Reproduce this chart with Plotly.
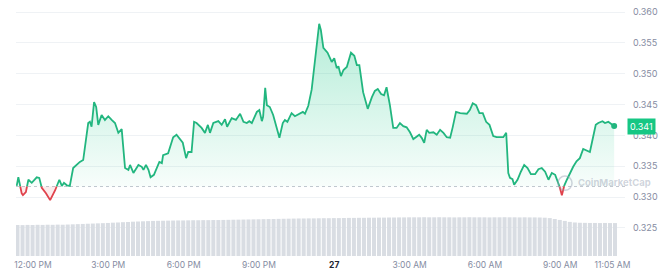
import numpy as np
import pandas as pd
import plotly.graph_objects as go

START = pd.Timestamp("2023-05-26 11:05")

# minutes after START, and price (USD)
MINUTES = [16, 20, 28, 31, 38, 44, 52, 64, 70, 76, 86, 96, 108, 118, 124, 129, 136, 143,
           151, 159, 167, 175, 179, 187, 191, 195, 201, 206, 211, 219, 227, 235, 243, 251,
           259, 267, 275, 283, 287, 295, 307, 315, 319, 325, 331, 336, 344, 351, 357, 363,
           366, 378, 390, 398, 406, 413, 421, 426, 434, 440, 446, 458, 466, 473, 478, 486,
           498, 506, 514, 519, 530, 540, 550, 558, 566, 572, 578, 590, 596, 602, 605, 610,
           614, 621, 629, 637, 644, 652, 657, 663, 673, 681, 691, 700, 705, 713, 721, 729,
           737, 739, 743, 749, 759, 769, 775, 781, 785, 791, 797, 805, 815, 823, 829, 835,
           844, 855, 865, 872, 879, 887, 894, 900, 908, 916, 924, 932, 940, 948, 956, 964,
           970, 978, 984, 990, 996, 1002, 1012, 1020, 1028, 1036, 1044, 1052, 1058, 1066,
           1076, 1083, 1092, 1099, 1106, 1114, 1122, 1130, 1138, 1146, 1155, 1163, 1171,
           1179, 1186, 1191, 1195, 1201, 1205, 1213, 1221, 1229, 1237, 1245, 1255, 1263,
           1271, 1279, 1287, 1295, 1303, 1311, 1319, 1325, 1331, 1338, 1346, 1354, 1362,
           1370, 1378, 1386, 1392, 1400, 1406, 1416, 1422, 1430, 1438, 1444]
PRICE = [0.3318, 0.3332, 0.3306, 0.3303, 0.3308, 0.3328, 0.3323, 0.3332, 0.3331, 0.3315,
         0.3306, 0.3295, 0.3311, 0.3328, 0.3318, 0.3323, 0.3319, 0.3318, 0.3347, 0.3352,
         0.3357, 0.3360, 0.3379, 0.3420, 0.3422, 0.3414, 0.3454, 0.3446, 0.3417, 0.3433,
         0.3425, 0.3431, 0.3425, 0.3420, 0.3404, 0.3410, 0.3347, 0.3344, 0.3352, 0.3339,
         0.3352, 0.3349, 0.3344, 0.3352, 0.3344, 0.3332, 0.3336, 0.3347, 0.3357, 0.3355,
         0.3368, 0.3371, 0.3397, 0.3401, 0.3394, 0.3388, 0.3363, 0.3373, 0.3373, 0.3422,
         0.3420, 0.3412, 0.3404, 0.3417, 0.3404, 0.3420, 0.3423, 0.3417, 0.3426, 0.3414,
         0.3428, 0.3425, 0.3435, 0.3422, 0.3420, 0.3423, 0.3420, 0.3438, 0.3441, 0.3423,
         0.3430, 0.3477, 0.3449, 0.3446, 0.3433, 0.3412, 0.3396, 0.3420, 0.3425, 0.3422,
         0.3436, 0.3431, 0.3435, 0.3438, 0.3435, 0.3448, 0.3474, 0.3525, 0.3574, 0.3581,
         0.3571, 0.3542, 0.3534, 0.3519, 0.3525, 0.3509, 0.3512, 0.3496, 0.3506, 0.3511,
         0.3534, 0.3529, 0.3514, 0.3514, 0.3470, 0.3443, 0.3462, 0.3472, 0.3475, 0.3467,
         0.3465, 0.3478, 0.3449, 0.3412, 0.3412, 0.3420, 0.3415, 0.3413, 0.3405, 0.3394,
         0.3397, 0.3401, 0.3396, 0.3388, 0.3409, 0.3404, 0.3405, 0.3401, 0.3409, 0.3404,
         0.3397, 0.3396, 0.3413, 0.3438, 0.3436, 0.3436, 0.3435, 0.3441, 0.3452, 0.3449,
         0.3436, 0.3436, 0.3422, 0.3417, 0.3399, 0.3397, 0.3397, 0.3397, 0.3404, 0.3339,
         0.3331, 0.3329, 0.3320, 0.3328, 0.3341, 0.3352, 0.3347, 0.3337, 0.3337, 0.3345,
         0.3347, 0.3341, 0.3328, 0.3339, 0.3336, 0.3323, 0.3303, 0.3319, 0.3328, 0.3339,
         0.3349, 0.3358, 0.3363, 0.3378, 0.3375, 0.3373, 0.3392, 0.3417, 0.3420, 0.3423,
         0.3420, 0.3422, 0.3418, 0.3415]
BASELINE = 0.3317

# rolling 24h volume (millions USD), one bar every 12 minutes
VOLUME = [318, 317, 319, 318, 320, 319, 321, 320, 322, 321, 323,
          325, 327, 329, 331, 333, 335,
          337, 339, 342, 344, 347, 349, 352, 354, 356, 358,
          360, 361, 362, 363, 364, 365, 365, 366, 367, 367, 368, 368, 369, 369,
          370, 371, 372, 373, 374, 375, 376, 377, 378, 379, 380, 381, 382, 383, 384, 385,
          385, 386, 386, 387,
          388, 388, 389, 389, 390, 391, 391, 392, 392, 393, 393, 394, 394, 395, 395, 396,
          396, 397, 397, 397, 398, 397, 397, 398, 397, 397, 396, 397, 397, 398, 397, 397,
          397, 396, 397, 397, 398, 397, 397, 396, 397, 396, 396, 395,
          393, 389, 380, 370, 360, 350, 344,
          341, 340, 339, 339, 338, 339, 338, 338]
VOL_TIMES = pd.date_range(START + pd.Timedelta(minutes=18), periods=len(VOLUME), freq="12min")

TICK_TIMES = ["2023-05-26 12:00", "2023-05-26 15:00", "2023-05-26 18:00", "2023-05-26 21:00",
              "2023-05-27 00:00", "2023-05-27 03:00", "2023-05-27 06:00", "2023-05-27 09:00",
              "2023-05-27 11:05"]
TICK_TEXT = ["12:00 PM", "3:00 PM", "6:00 PM", "9:00 PM",
             "<span style='color:#222531'><b>27</b></span>",
             "3:00 AM", "6:00 AM", "9:00 AM", "11:05 AM"]
Y_TICKS = [0.325, 0.330, 0.335, 0.340, 0.345, 0.350, 0.355, 0.360]

GREEN = "#22b67f"
TAG_GREEN = "#16c784"
RED = "#e0424c"

# ---- split the series at the baseline (insert crossing points) ----
m = np.array(MINUTES, float)
p = np.array(PRICE, float)
xs, ys = [m[0]], [p[0]]
for i in range(1, len(m)):
    a, b = p[i - 1] - BASELINE, p[i] - BASELINE
    if a * b < 0:
        t = a / (a - b)
        xs.append(m[i - 1] + t * (m[i] - m[i - 1]))
        ys.append(BASELINE)
    xs.append(m[i])
    ys.append(p[i])
xs = np.array(xs)
ys = np.array(ys)
xt = [START + pd.Timedelta(minutes=float(v)) for v in xs]
above = np.maximum(ys, BASELINE)
below = np.minimum(ys, BASELINE)
green_line = [v if v >= BASELINE else None for v in ys]
red_line = [v if v <= BASELINE else None for v in ys]
base = [BASELINE] * len(ys)

fig = go.Figure()
fig.add_trace(go.Bar(x=VOL_TIMES, y=VOLUME, yaxis="y2", marker=dict(color="#d9dde3", line=dict(width=0)),
                     hoverinfo="skip"))
fig.add_trace(go.Scatter(x=xt, y=base, mode="lines", line=dict(width=0), hoverinfo="skip"))
fig.add_trace(go.Scatter(x=xt, y=above, mode="lines", line=dict(width=0), fill="tonexty",
                         fillgradient=dict(type="vertical", start=BASELINE, stop=0.358,
                                           colorscale=[[0, "rgba(22,199,132,0.03)"],
                                                       [1, "rgba(22,199,132,0.32)"]]),
                         hoverinfo="skip"))
fig.add_trace(go.Scatter(x=xt, y=base, mode="lines", line=dict(width=0), hoverinfo="skip"))
fig.add_trace(go.Scatter(x=xt, y=below, mode="lines", line=dict(width=0), fill="tonexty",
                         fillcolor="rgba(234,57,67,0.10)", hoverinfo="skip"))
fig.add_trace(go.Scatter(x=xt, y=green_line, mode="lines", line=dict(color=GREEN, width=1.8),
                         connectgaps=False))
fig.add_trace(go.Scatter(x=xt, y=red_line, mode="lines", line=dict(color=RED, width=1.8),
                         connectgaps=False))
fig.add_trace(go.Scatter(x=[xt[-1]], y=[ys[-1]], mode="markers",
                         marker=dict(color=GREEN, size=6)))

x_lo = START + pd.Timedelta(minutes=14.4)
x_hi = START + pd.Timedelta(minutes=1469.9)

fig.update_layout(
    width=660, height=279,
    margin=dict(l=16, r=35, t=0, b=21),
    paper_bgcolor="white", plot_bgcolor="white",
    showlegend=False,
    font=dict(family="Inter, Roboto, sans-serif", size=9, color="#858ca2"),
    bargap=0.2,
    xaxis=dict(type="date", range=[x_lo, x_hi], tickvals=TICK_TIMES, ticktext=TICK_TEXT,
               showgrid=False, zeroline=False, showline=False, ticks="",
               tickfont=dict(size=8.5)),
    yaxis=dict(range=[0.32011, 0.36195], side="right", tickvals=Y_TICKS, tickformat=".3f",
               showgrid=True, gridcolor="#eff2f5", gridwidth=1, zeroline=False, showline=False,
               ticks="", ticklabelstandoff=7, tickfont=dict(size=9)),
    yaxis2=dict(overlaying="y", range=[-20.5, 2626.6], visible=False),
)

# dotted baseline (open price)
fig.add_shape(type="line", xref="paper", x0=0, x1=1, yref="y", y0=BASELINE, y1=BASELINE,
              line=dict(color="#c3c8d0", width=1, dash="dot"), layer="below")

# current price tag
fig.add_annotation(xref="paper", x=1, xanchor="left", xshift=2, yref="y", y=PRICE[-1],
                   text="0.341", showarrow=False, bgcolor=TAG_GREEN, borderpad=2,
                   font=dict(color="white", size=9))

# watermark
fig.add_shape(type="circle", xref="paper", yref="y", x0=0.890, x1=0.913, y0=0.3311, y1=0.3334,
              line=dict(color="rgba(150,160,178,0.45)", width=1.5))
fig.add_annotation(xref="paper", x=0.919, xanchor="left", yref="y", y=0.3323, text="<b>CoinMarketCap</b>",
                   showarrow=False, font=dict(size=9.5, color="rgba(150,160,178,0.45)"))

fig.write_html("out.html")
